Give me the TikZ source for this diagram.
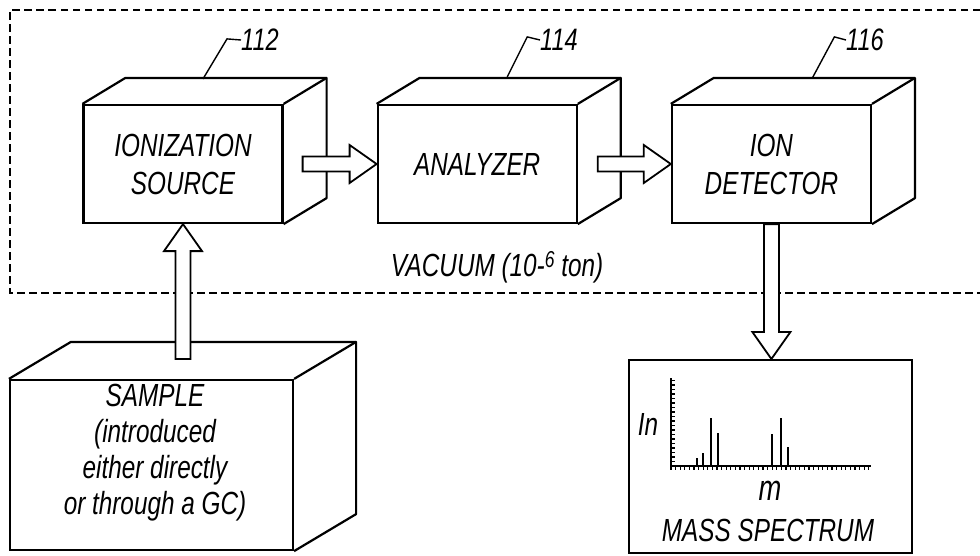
\documentclass[tikz,border=0pt]{standalone}
\usepackage{fontspec}
\newfontfamily\labelfont[FakeStretch=0.76]{Liberation Sans}
\usetikzlibrary{positioning, calc}
\tikzset{%
	unit/.style={draw, line width=2.2pt, fill=white, minimum width=199pt, minimum height=118pt,%
		inner sep=0pt, align=center, font=\labelfont\itshape\fontsize{32}{38}\selectfont},
	sample/.style={unit, minimum width=283pt, minimum height=170pt},
	spectrum/.style={draw, line width=2pt, minimum width=283pt, minimum height=193pt},
	edge/.style={line width=2.2pt, line join=round},
	lead/.style={line width=1.4pt},
	tag/.style={font=\labelfont\itshape\fontsize{31}{32}\selectfont, inner sep=0pt, anchor=west},
	txt/.style={font=\labelfont\itshape\fontsize{32}{36}\selectfont, inner sep=0pt, align=center},
	vac/.style={line width=1.4pt, dash pattern=on 7.5pt off 4.5pt},
	fat/.style={draw, fill=white, line width=1.8pt, line join=miter, to path={%
		let \p1=($(\tikztotarget)-(\tikztostart)$), \n1={atan2(\y1,\x1)}, \n2={veclen(\x1,\y1)} in
		{[shift={(\tikztostart)}, rotate=\n1, x=1pt, y=1pt]
		(0,-7.5) -- (\n2-27,-7.5) -- (\n2-27,-19) -- (\n2,0) -- (\n2-27,19) -- (\n2-27,7.5) -- (0,7.5) -- cycle}}},
	axis/.style={line width=1.8pt},
	tick/.style={line width=1.1pt},
	peak/.style={line width=1.5pt}
}
\begin{document}
\begin{tikzpicture}[x=1pt, y=-1pt]
	\useasboundingbox (0,0) rectangle (980,555);

	% vacuum enclosure
	\draw[vac] (980,10) -- (10,10) -- (10,293) -- (980,293);
	\node[txt] (vacuum) at (497,267) {VACUUM (10-\raisebox{9pt}{\fontsize{23}{23}\selectfont 6} ton)};

	% units
	\node[unit] (src) at (183,164) {IONIZATION\\SOURCE};
	\node[unit, right=93pt of src] (ana) {ANALYZER};
	\node[unit, right=93pt of ana] (det) {ION\\DETECTOR};
	\foreach \b in {src,ana,det} {
		\draw[edge] (\b.north west) -- ++(43,-26) -| ($(\b.south east)+(43,-26)$) -- (\b.south east);
		\draw[edge] (\b.north east) -- ++(43,-26);
	}

	\node[sample] (smp) at (151.5,465) {};
	\draw[edge] (smp.north west) -- ++(62,-37) -| ($(smp.south east)+(62,-37)$) -- (smp.south east);
	\draw[edge] (smp.north east) -- ++(62,-37);
	\coordinate (smptop) at ($(smp.north)+(31,-20)$);
	\node[txt] (smptext) at (155,453) {SAMPLE\\(introduced\\either directly\\or through a GC)};

	% reference numerals
	\node[tag] (t112) at (241,40) {112};
	\node[tag] (t114) at (540,40) {114};
	\node[tag] (t116) at (846,40) {116};
	\draw[lead] ($(src.north)+(20,-25)$) -- ++(24,-40) -- (t112.west);
	\draw[lead] ($(ana.north)+(30,-27)$) -- ++(20,-40) -- (t114.west);
	\draw[lead] ($(det.north)+(41,-26)$) -- ++(22,-41) -- (t116.west);

	% spectrum
	\node[spectrum] (spec) at (770.5,456.5) {};
	\coordinate (orig) at ($(spec.south west)+(43,-88)$);
	\foreach \t in {0,4.5,...,86} \draw[tick] ($(orig)+(0,-\t)$) -- ++(3.5,0);
	\foreach \t in {0,4.6,...,198} \draw[tick] ($(orig)+(\t,0)$) -- ++(0,3.5);
	\draw[axis] ($(orig)+(0,-88)$) -- (orig) -- ++(200,0);
	\foreach \px/\py in {26/8, 32/13, 40/48, 47/33, 101/32, 110/48, 117/19}
		\draw[peak] ($(orig)+(\px,0)$) -- ++(0,-\py);
	\node[txt] (inten) at (648,424) {In};
	\node[txt, font=\labelfont\itshape\fontsize{36}{38}\selectfont] (mass) at (770,491) {m};
	\node[txt] (spectitle) at (768,530) {MASS SPECTRUM};

	% flow arrows
	\draw[fat] ([xshift=19pt]src.east) to (ana.west);
	\draw[fat] ([xshift=20pt]ana.east) to (det.west);
	\draw[fat] (det.south) to (det.south |- spec.north);
	\draw[fat] (src.south |- smptop) to (src.south);
\end{tikzpicture}
\end{document}
